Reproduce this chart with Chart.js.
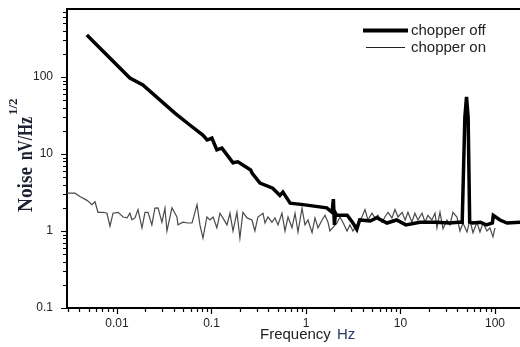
<!DOCTYPE html>
<html>
<head>
<meta charset="utf-8">
<script src="https://cdn.jsdelivr.net/npm/chart.js@4/dist/chart.umd.min.js"></script>
<style>
  html, body { margin: 0; padding: 0; background: #fff; }
</style>
</head>
<body>
<canvas id="chart" width="520" height="347"></canvas>
<script>
// frequency (Hz) / noise (nV/Hz^1/2)
const offFreq = [0.0048, 0.0137, 0.0188, 0.041, 0.059, 0.081, 0.09, 0.101, 0.114, 0.129,
  0.169, 0.19, 0.26, 0.27, 0.326, 0.445, 0.53, 0.57, 0.68, 0.93,
  1.66, 1.89, 1.95, 2.0, 2.05, 2.1, 2.73, 3.14, 3.45, 3.7,
  4.8, 5.6, 7.2, 9.1, 11.4, 16, 24, 33, 41, 45,
  48, 50, 52, 54, 58, 70, 81, 94, 96, 113, 134, 184];
const offNoise = [351, 97, 79, 34, 23.8, 17.6, 15.2, 16.1, 11.3, 11.9,
  7.7, 7.9, 6.2, 5.6, 4.2, 3.6, 2.9, 3.2, 2.3, 2.2,
  2.0, 1.75, 2.6, 1.2, 1.7, 1.6, 1.6, 1.27, 1.05, 1.39,
  1.35, 1.49, 1.27, 1.39, 1.2, 1.3, 1.3, 1.27, 1.3, 1.3,
  30, 55, 30, 1.3, 1.27, 1.3, 1.2, 1.27, 1.6, 1.39, 1.27, 1.3];

const onFreq = [0.00296, 0.00318, 0.0036, 0.00406, 0.00482, 0.00543, 0.00585, 0.0063, 0.00711, 0.00783,
  0.00844, 0.00908, 0.0103, 0.0116, 0.0128, 0.0137, 0.0144, 0.0155, 0.0167, 0.0184,
  0.0198, 0.0213, 0.0234, 0.0252, 0.0272, 0.0299, 0.0322, 0.0338, 0.0382, 0.0431,
  0.0442, 0.0499, 0.0564, 0.0623, 0.0703, 0.0755, 0.0813, 0.0895, 0.0964, 0.104,
  0.114, 0.123, 0.132, 0.146, 0.157, 0.169, 0.186, 0.2, 0.215, 0.238,
  0.268, 0.288, 0.31, 0.351, 0.368, 0.396, 0.436, 0.47, 0.506, 0.557,
  0.6, 0.646, 0.711, 0.766, 0.823, 0.908, 0.976, 1.05, 1.16, 1.245,
  1.34, 1.48, 1.59, 1.71, 1.79, 2.13, 2.29, 2.46, 2.72, 2.92,
  3.14, 3.55, 3.91, 4.21, 4.53, 4.99, 5.37, 5.78, 6.37, 6.85,
  7.38, 8.13, 8.75, 9.42, 10.4, 11.2, 12.0, 13.2, 14.2, 15.3,
  16.9, 18.2, 19.5, 21.5, 23.2, 24.3, 26.2, 28.2, 31.0, 33.4,
  35.9, 39.6, 42.6, 45.8, 50.6, 54.3, 58.5, 64.5, 69.4, 74.6,
  82.2, 88.5, 95.2, 100];
const onNoise = [3.1, 3.1, 3.1, 2.8, 2.5, 2.2, 2.4, 1.75, 1.75, 1.7,
  1.16, 1.7, 1.75, 1.52, 1.48, 1.7, 1.4, 1.48, 1.9, 1.1,
  1.75, 1.75, 1.2, 1.98, 2.0, 1.3, 1.98, 1.0, 2.0, 1.52,
  1.2, 1.3, 1.27, 1.27, 2.2, 1.2, 0.81, 1.52, 1.39, 1.52,
  1.1, 1.7, 1.48, 1.2, 1.7, 1.0, 1.75, 0.81, 1.75, 1.48,
  1.39, 1.0, 1.52, 1.7, 1.27, 1.52, 1.3, 1.48, 1.2, 1.7,
  1.0, 1.52, 1.1, 1.7, 0.97, 1.98, 1.2, 1.39, 0.95, 1.48,
  1.1, 1.39, 1.6, 1.3, 1.0, 1.27, 1.52, 1.3, 1.0, 1.2,
  1.0, 1.27, 1.52, 1.9, 1.39, 1.7, 1.48, 1.6, 1.3, 1.52,
  1.75, 1.48, 1.9, 1.52, 1.75, 1.39, 1.75, 1.3, 1.7, 1.39,
  1.7, 1.3, 1.6, 1.39, 1.7, 1.1, 1.75, 1.07, 1.39, 1.2,
  1.75, 1.52, 1.0, 1.27, 0.97, 1.39, 0.95, 1.3, 0.97, 1.27,
  1.0, 1.1, 0.84, 1.1];

const seriesNames = ['chopper off', 'chopper on'];

const xMin = 0.00296, xMax = 184;
const yMin = 0.1, yMax = 764;
const xTickValues = [0.01, 0.1, 1, 10, 100];
const xTickLabels = ['0.01', '0.1', '1', '10', '100'];
const yTickValues = [0.1, 1, 10, 100];
const yTickLabels = ['0.1', '1', '10', '100'];

const toPoints = (xs, ys) => xs.map((x, i) => ({x: x, y: ys[i]}));

// decade + 2..9 minor positions inside [min, max]
function logPositions(min, max) {
  const out = [];
  for (let d = Math.floor(Math.log10(min)); d <= Math.ceil(Math.log10(max)); d++) {
    for (let m = 1; m <= 9; m++) {
      const v = m * Math.pow(10, d);
      if (v >= min * 0.999 && v <= max * 1.001) out.push({v: v, major: m === 1});
    }
  }
  return out;
}

const decor = {
  id: 'decor',
  afterDraw(chart) {
    const {ctx, chartArea: a, scales: {x, y}} = chart;
    ctx.save();
    ctx.strokeStyle = '#000';

    // top frame line
    ctx.lineWidth = 2;
    ctx.beginPath();
    ctx.moveTo(a.left - 1, a.top);
    ctx.lineTo(a.right, a.top);
    ctx.stroke();

    // tick marks
    ctx.lineWidth = 1.2;
    ctx.beginPath();
    for (const t of logPositions(xMin, xMax)) {
      const px = Math.round(x.getPixelForValue(t.v)) + 0.5;
      ctx.moveTo(px, a.bottom + 1);
      ctx.lineTo(px, a.bottom + (t.major ? 6 : 4));
    }
    for (const t of logPositions(yMin, yMax)) {
      const py = Math.round(y.getPixelForValue(t.v)) + 0.5;
      ctx.moveTo(a.left - 1, py);
      ctx.lineTo(a.left - (t.major ? 6 : 4), py);
    }
    ctx.stroke();

    // legend, inside the plot
    const ds = chart.data.datasets;
    const rows = [30.5, 47.5];
    ctx.font = '15px "Liberation Sans", Arial, sans-serif';
    ctx.textBaseline = 'middle';
    ctx.textAlign = 'left';
    ds.forEach((d, i) => {
      ctx.strokeStyle = i === 0 ? '#000' : '#222';
      ctx.lineWidth = i === 0 ? 4 : 1;
      ctx.beginPath();
      ctx.moveTo(i === 0 ? 363 : 366, rows[i]);
      ctx.lineTo(i === 0 ? 408 : 405, rows[i]);
      ctx.stroke();
      ctx.fillStyle = '#222';
      ctx.fillText(d.label, 411, rows[i]);
    });

    // x title
    ctx.textBaseline = 'alphabetic';
    ctx.fillStyle = '#222';
    ctx.fillText('Frequency', 260, 339);
    ctx.fillStyle = '#2a3a6a';
    ctx.fillText('Hz', 337, 339);

    // y title, rotated, with superscript
    ctx.translate(32, 212);
    ctx.rotate(-Math.PI / 2);
    ctx.fillStyle = '#1c2030';
    ctx.font = 'bold 20px "Liberation Serif", "Times New Roman", serif';
    ctx.fillText('Noise', 0, 0, 45);
    ctx.fillText('nV/Hz', 52, 0, 43);
    ctx.font = 'bold 13px "Liberation Serif", "Times New Roman", serif';
    ctx.fillText('1/2', 97, -15, 22);
    ctx.restore();
  }
};

new Chart(document.getElementById('chart'), {
  type: 'scatter',
  data: {
    datasets: [{
      label: seriesNames[0],
      data: toPoints(offFreq, offNoise),
      showLine: true,
      borderColor: '#000',
      borderWidth: 3.5,
      pointRadius: 0,
      tension: 0
    }, {
      label: seriesNames[1],
      data: toPoints(onFreq, onNoise),
      showLine: true,
      borderColor: '#4a4a4a',
      borderWidth: 1.2,
      pointRadius: 0,
      tension: 0
    }]
  },
  options: {
    responsive: false,
    animation: false,
    devicePixelRatio: 1,
    layout: {padding: {top: 9, left: 0, right: 0, bottom: 0}},
    plugins: {
      legend: {display: false},
      tooltip: {enabled: false}
    },
    scales: {
      x: {
        type: 'logarithmic',
        min: xMin,
        max: xMax,
        bounds: 'data',
        afterFit: (s) => { s.height = 39; s.paddingLeft = 0; s.paddingRight = 0; },
        afterBuildTicks: (s) => { s.ticks = xTickValues.map(v => ({value: v})); },
        ticks: {
          callback: (v, i) => xTickLabels[i],
          autoSkip: false,
          maxRotation: 0,
          padding: 8,
          color: '#222',
          font: {family: '"Liberation Sans", Arial, sans-serif', size: 12}
        },
        grid: {display: false, drawTicks: false},
        border: {display: true, color: '#000', width: 2}
      },
      y: {
        type: 'logarithmic',
        min: yMin,
        max: yMax,
        bounds: 'data',
        afterFit: (s) => { s.width = 67; s.paddingTop = 0; s.paddingBottom = 0; },
        afterBuildTicks: (s) => { s.ticks = yTickValues.map(v => ({value: v})); },
        ticks: {
          callback: (v, i) => yTickLabels[i],
          autoSkip: false,
          padding: 14,
          color: '#222',
          font: {family: '"Liberation Sans", Arial, sans-serif', size: 12}
        },
        grid: {display: false, drawTicks: false},
        border: {display: true, color: '#000', width: 2}
      }
    }
  },
  plugins: [decor]
});
</script>
</body>
</html>
